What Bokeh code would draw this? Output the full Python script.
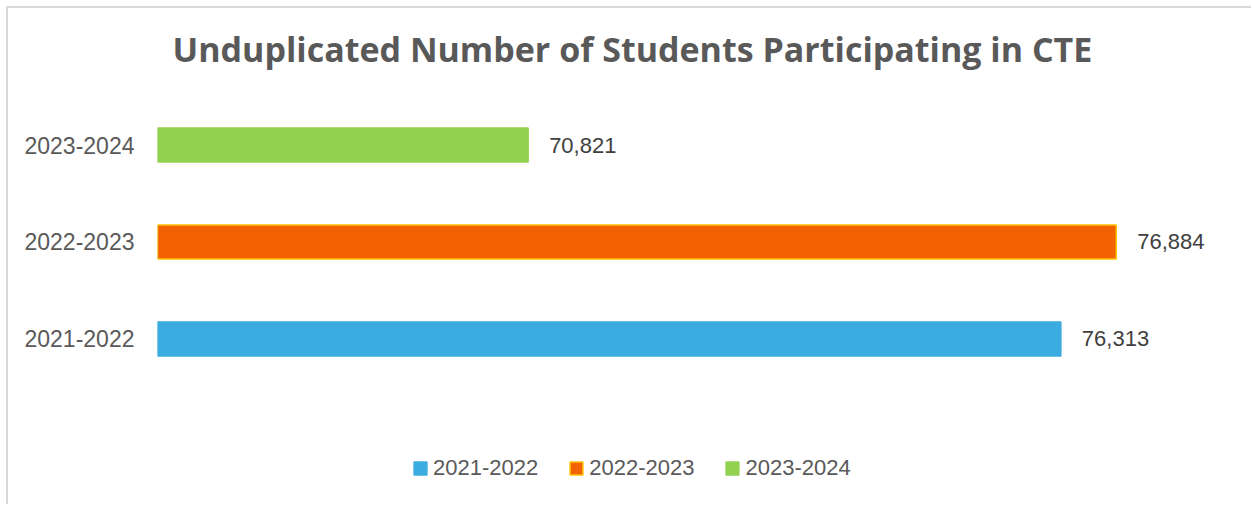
from bokeh.plotting import figure
from bokeh.models import (ColumnDataSource, Legend, LegendItem, Range1d, LabelSet,
                          FixedTicker)
from bokeh.core.properties import value
from bokeh.embed import file_html
from bokeh.resources import INLINE

# Data
years = ["2021-2022", "2022-2023", "2023-2024"]
students = [76313, 76884, 70821]
colors = ["#3BACE0", "#F26103", "#92D050"]
outlines = ["#3BACE0", "#FFC000", "#92D050"]
labels = [f"{v:,}" for v in students]

pos = list(range(len(years)))
src = ColumnDataSource(dict(pos=pos, year=years, n=students, label=labels))

p = figure(width=1245, height=498, y_range=Range1d(-1.727, 2.665),
           x_range=Range1d(67000, 78000),
           output_backend="svg", toolbar_location=None,
           min_border_left=149, min_border_right=29, min_border_top=72, min_border_bottom=0)
p.styles = {"margin-left": "6px", "margin-top": "6px",
            "border-top": "2px solid #D9D9D9", "border-left": "2px solid #D9D9D9"}

p.title.text = "Unduplicated Number of Students Participating in CTE"
p.title.align = "left"
p.title.offset = 15
p.title.text_font = "Open Sans"
p.title.text_font_style = "bold"
p.title.text_font_size = "34px"
p.title.text_color = "#595959"
p.title.standoff = 18

renderers = []
for i in range(len(years)):
    s = ColumnDataSource(dict(pos=[pos[i]], n=[students[i]], start=[67000]))
    r = p.hbar(y="pos", right="n", left="start", height=0.35, source=s,
               fill_color=colors[i], line_color=outlines[i], line_width=1.5)
    renderers.append(r)

lbl = LabelSet(x="n", y="pos", text="label", source=src, x_offset=21,
               text_baseline=value("middle"), text_align=value("left"),
               text_font=value("Liberation Sans"), text_font_size=value("22px"),
               text_color=value("#404040"))
p.add_layout(lbl)

p.xaxis.visible = False
p.xgrid.grid_line_color = None
p.ygrid.grid_line_color = None
p.outline_line_color = None
p.yaxis.ticker = FixedTicker(ticks=pos)
p.yaxis.major_label_overrides = {i: y for i, y in zip(pos, years)}
p.yaxis.axis_line_color = None
p.yaxis.major_tick_line_color = None
p.yaxis.minor_tick_line_color = None
p.yaxis.major_tick_out = 0
p.yaxis.major_label_standoff = 23
p.yaxis.major_label_text_font = "Liberation Sans"
p.yaxis.major_label_text_font_size = "23px"
p.yaxis.major_label_text_color = "#595959"

legend = Legend(items=[LegendItem(label=years[i], renderers=[renderers[i]]) for i in range(3)],
                orientation="horizontal", location=(255, 25),
                glyph_width=16, glyph_height=16, label_standoff=5, spacing=30,
                label_text_font="Liberation Sans", label_text_font_size="22px",
                label_text_color="#595959", border_line_color=None,
                background_fill_alpha=0, margin=0, padding=0)
p.add_layout(legend)

open("out.html", "w").write(file_html(p, INLINE))
